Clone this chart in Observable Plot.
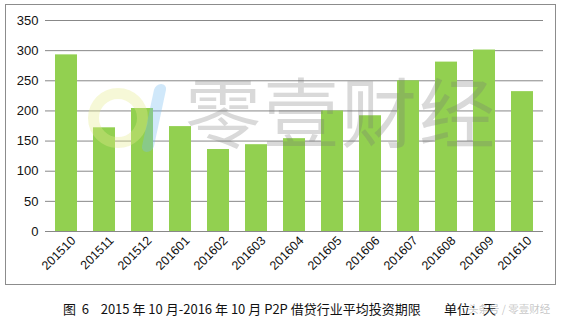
<!DOCTYPE html>
<html><head><meta charset="utf-8">
<script src="https://cdn.jsdelivr.net/npm/d3@7"></script>
<script src="https://cdn.jsdelivr.net/npm/@observablehq/plot@0.6"></script>
<style>
body{margin:0;background:#fff;font-family:"Liberation Sans","DejaVu Sans",sans-serif;}
#wrap{position:relative;width:564px;height:321px;}
#frame{position:absolute;left:5px;top:4px;width:551px;height:281px;border:1px solid #8c8c8c;box-sizing:border-box;}
#chart{position:absolute;left:0;top:0;}
#wm{position:absolute;left:185px;top:68px;font-family:"Noto Sans CJK SC",sans-serif;font-size:76px;line-height:1.1;color:rgba(120,120,120,0.28);letter-spacing:2px;pointer-events:none;}
#logo{position:absolute;left:88px;top:88px;width:60px;height:60px;border-radius:50%;border:11px solid rgba(230,235,140,0.35);box-sizing:border-box;pointer-events:none;}
#logo2{position:absolute;left:148px;top:84px;width:12px;height:68px;background:rgba(120,190,240,0.35);transform:skewX(-12deg);border-radius:6px;pointer-events:none;}
#cap{position:absolute;left:63px;top:299px;font-family:"Noto Sans CJK SC",sans-serif;font-size:13px;color:#111;white-space:pre;}
#wm2{position:absolute;left:468px;top:301px;font-family:"Noto Sans CJK SC",sans-serif;font-size:10.5px;color:rgba(150,150,150,0.55);white-space:pre;}
</style></head>
<body><div id="wrap"><div id="frame"></div><div id="chart"></div>
<div id="logo"></div><div id="logo2"></div>
<div id="wm">零壹财经</div>
<div id="cap">图  6    2015 年 10 月-2016 年 10 月 P2P 借贷行业平均投资期限        单位：天</div>
<div id="wm2">头条号 / 零壹财经</div>
</div>
<script>
const months = ["201510","201511","201512","201601","201602","201603","201604","201605","201606","201607","201608","201609","201610"];
const values = [293,172,204,174,136,144,154,200,192,250,281,301,232];
const yTicks = [0,50,100,150,200,250,300,350];
const data = months.map((m,i)=>({month:m,value:values[i]}));
const chart = Plot.plot({
  width:564, height:290,
  marginLeft:45, marginRight:21, marginTop:20, marginBottom:59,
  style:{fontFamily:"'Liberation Sans','DejaVu Sans',sans-serif", fontSize:"12.5px", color:"#111", background:"transparent"},
  x:{domain:months, paddingInner:0.42, paddingOuter:0.21, label:null},
  y:{domain:[0,350], label:null},
  marks:[
    Plot.ruleY(yTicks,{stroke:"#888", strokeWidth:1}),
    Plot.barY(data,{x:"month", y:"value", fill:"#92D050"}),
    Plot.axisY(yTicks,{tickSize:0, tickPadding:7, label:null, fontSize:"13px"}),
    Plot.axisX({tickSize:0, tickRotate:-45, tickPadding:4, dx:7, dy:3, label:null, fontSize:"12.5px"})
  ]
});
document.getElementById("chart").appendChild(chart);
</script></body></html>
